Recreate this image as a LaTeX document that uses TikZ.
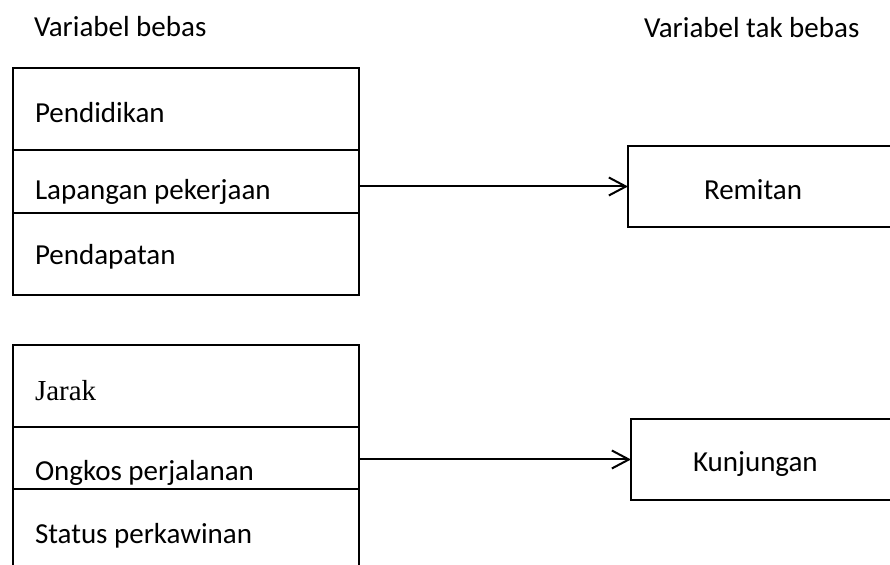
\documentclass[tikz,border=0pt]{standalone}
\usepackage{fontspec}
\setmainfont{Carlito}
\newfontfamily\timesfont{Liberation Serif}
\usetikzlibrary{arrows.meta,positioning}

\begin{document}
\begin{tikzpicture}[x=0.5pt, y=-0.5pt, line width=1pt,
  every node/.style={font=\fontsize{14.5pt}{17pt}\selectfont},
  cell/.style={draw, rectangle, text width=151pt, inner xsep=11pt, inner ysep=0pt,
    outer sep=0pt, align=flush left, minimum height=41pt, text height=16pt, text depth=2pt},
  depbox/.style={draw, rectangle, anchor=west, inner ysep=0pt, outer sep=0pt,
    align=flush left, minimum height=40.5pt, text height=15pt, text depth=2pt},
  arr/.style={-{Straight Barb[length=8.5pt, width=9pt]}}]

  % Fix the size of the picture
  \useasboundingbox (0,0) rectangle (890,565);

  % Headings of the two columns
  \node[anchor=base west, inner sep=0pt] (hbebas) at (33,37) {Variabel bebas};
  \node[anchor=base west, inner sep=0pt] (htakbebas) at (643,38) {Variabel tak bebas};

  % First group of independent variables
  \node[cell, anchor=north west] (pend) at (13,68) {Pendidikan};
  \node[cell, below=0pt of pend, minimum height=31.5pt, text height=20pt] (lap) {Lapangan pekerjaan};
  \node[cell, below=0pt of lap, text height=13pt] (pdpt) {Pendapatan};

  % Second group of independent variables
  \node[cell, below=25pt of pdpt, text height=17pt] (jarak) {\timesfont Jarak};
  \node[cell, below=0pt of jarak, minimum height=31pt, text height=25pt] (ongkos) {Ongkos perjalanan};
  \node[cell, below=0pt of ongkos] (status) {Status perkawinan};

  % Dependent variables
  \node[depbox, inner xsep=38pt, text width=69pt] (remitan) at (628,186.5) {Remitan};
  \node[depbox, inner xsep=31pt, text width=83pt, text height=14pt] (kunj) at (631,459.5) {Kunjungan};

  % Arrows from the groups to the dependent variables
  \draw[arr] (remitan.west -| lap.east) -- (remitan.west);
  \draw[arr] (kunj.west -| ongkos.east) -- (kunj.west);

\end{tikzpicture}
\end{document}
